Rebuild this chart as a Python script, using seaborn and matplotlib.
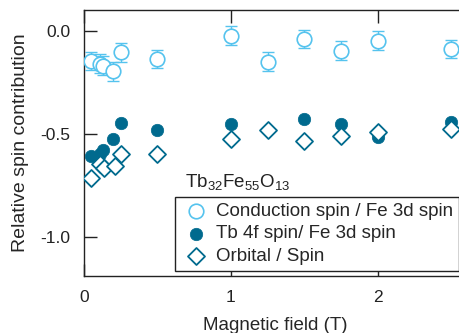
import numpy as np
import pandas as pd
import matplotlib
matplotlib.use('Agg')
import matplotlib.pyplot as plt
import seaborn as sns

# Data
field_cond = [0.05, 0.11, 0.13, 0.2, 0.25, 0.5, 1.0, 1.25, 1.5, 1.75, 2.0, 2.5]
cond_spin = [-0.148, -0.16, -0.17, -0.197, -0.105, -0.138, -0.024, -0.15, -0.04, -0.097, -0.049, -0.089]
cond_err = [0.045, 0.045, 0.045, 0.045, 0.045, 0.045, 0.045, 0.045, 0.045, 0.045, 0.045, 0.045]

field_tb = [0.05, 0.11, 0.13, 0.2, 0.25, 0.5, 1.0, 1.5, 1.75, 2.0, 2.5]
tb_spin = [-0.61, -0.60, -0.58, -0.525, -0.45, -0.48, -0.453, -0.427, -0.451, -0.516, -0.443]

field_orb = [0.05, 0.11, 0.135, 0.21, 0.255, 0.5, 1.0, 1.25, 1.5, 1.75, 2.0, 2.5]
orb_spin = [-0.717, -0.645, -0.668, -0.656, -0.597, -0.599, -0.526, -0.484, -0.537, -0.513, -0.492, -0.477]

LIGHT = '#55c3ee'
DARK = '#006a8e'
INK = '#222222'

sns.set_style('ticks')
plt.rcParams['font.family'] = ['Liberation Sans', 'DejaVu Sans']
plt.rcParams['font.size'] = 12

fig = plt.figure(figsize=(4.6, 3.33), dpi=100)
ax = fig.add_axes([84 / 460, 1 - 276 / 333, (466 - 84) / 460, (276 - 10) / 333])

df_cond = pd.DataFrame({'field': field_cond, 'ratio': cond_spin, 'err': cond_err})
df_tb = pd.DataFrame({'field': field_tb, 'ratio': tb_spin})
df_orb = pd.DataFrame({'field': field_orb, 'ratio': orb_spin})

ax.errorbar(df_cond['field'], df_cond['ratio'], yerr=df_cond['err'], fmt='none',
            ecolor=LIGHT, elinewidth=1.0, capsize=4.5, capthick=1.0, zorder=2)
sns.scatterplot(data=df_cond, x='field', y='ratio', ax=ax, marker='o', s=110,
                facecolor='white', edgecolor=LIGHT, linewidth=1.2, zorder=3,
                label='Conduction spin / Fe 3d spin')
sns.scatterplot(data=df_tb, x='field', y='ratio', ax=ax, marker='o', s=80,
                color=DARK, edgecolor=DARK, linewidth=0.5, zorder=3,
                label='Tb 4f spin/ Fe 3d spin')
sns.scatterplot(data=df_orb, x='field', y='ratio', ax=ax, marker='D', s=75,
                facecolor='white', edgecolor=DARK, linewidth=1.3, zorder=4,
                label='Orbital / Spin')

ax.set_xlim(0, 2.6)
ax.set_ylim(-1.19, 0.10)
ax.set_xticks([0, 1, 2])
ax.set_yticks([0.0, -0.5, -1.0])
ax.set_yticklabels(['0.0', '-0.5', '-1.0'])
ax.set_xlabel('Magnetic field (T)', fontsize=13.5, labelpad=9)
ax.set_ylabel('Relative spin contribution', fontsize=14, labelpad=8)

ax.tick_params(axis='both', direction='in', length=9, width=1, colors=INK,
               labelcolor=INK, labelsize=12.5, pad=10)
ax.tick_params(axis='x', top=True)
ax.spines['right'].set_visible(False)
for s in ['left', 'bottom', 'top']:
    ax.spines[s].set_color(INK)
    ax.spines[s].set_linewidth(1.0)

ax.text(0.69, -0.735, r'$\mathregular{Tb_{32}Fe_{55}O_{13}}$', fontsize=13.5,
        color=INK, va='center', ha='left')

leg = ax.legend(loc='upper left', bbox_to_anchor=((175 - 84) / 382, (276 - 197) / 266),
                borderaxespad=0, frameon=True, fancybox=False, edgecolor=INK, framealpha=1,
                borderpad=0.3, labelspacing=0.3, handletextpad=0.3,
                handlelength=1.6, fontsize=13.5)
leg.get_frame().set_linewidth(1.0)

fig.savefig('out.png', dpi=100)
